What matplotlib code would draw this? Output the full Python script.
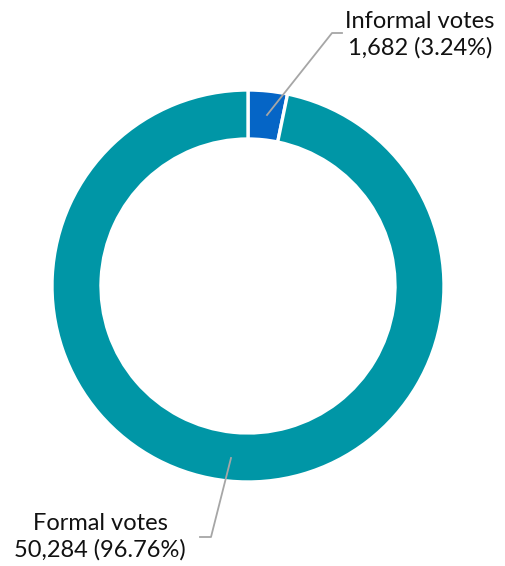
import matplotlib
matplotlib.use("Agg")
import matplotlib.pyplot as plt

labels = ["Informal votes", "Formal votes"]
values = [1682, 50284]
percents = ["3.24%", "96.76%"]
colors = ["#0565C6", "#0096A6"]

W, H = 506, 566
fig = plt.figure(figsize=(W / 100, H / 100), dpi=100)
ax = fig.add_axes([0, 0, 1, 1])

cx, cy = 248, H - 286
R = 196
ax.pie(values, colors=colors, startangle=90, counterclock=False,
       radius=R, center=(cx, cy), frame=True,
       wedgeprops=dict(width=49, edgecolor="white", linewidth=2.4))
ax.set_xlim(0, W)
ax.set_ylim(0, H)
ax.set_aspect("equal")
ax.axis("off")

font = ["Lato", "DejaVu Sans"]
line_c = "#a6a6a6"
# Informal label
ax.plot([267, 332, 342], [H - 115, H - 33, H - 33], color=line_c, lw=1.3)
ax.text(420, H - 35, f"{labels[0]}\n{values[0]:,} ({percents[0]})",
        ha="center", va="center", fontsize=17, family=font, color="#111111",
        linespacing=1.3)
# Formal label
ax.plot([231, 211, 200], [H - 458, H - 537, H - 537], color=line_c, lw=1.3)
ax.text(100, H - 537, f"{labels[1]}\n{values[1]:,} ({percents[1]})",
        ha="center", va="center", fontsize=17, family=font, color="#111111",
        linespacing=1.3)

fig.savefig("out.png", dpi=100)
